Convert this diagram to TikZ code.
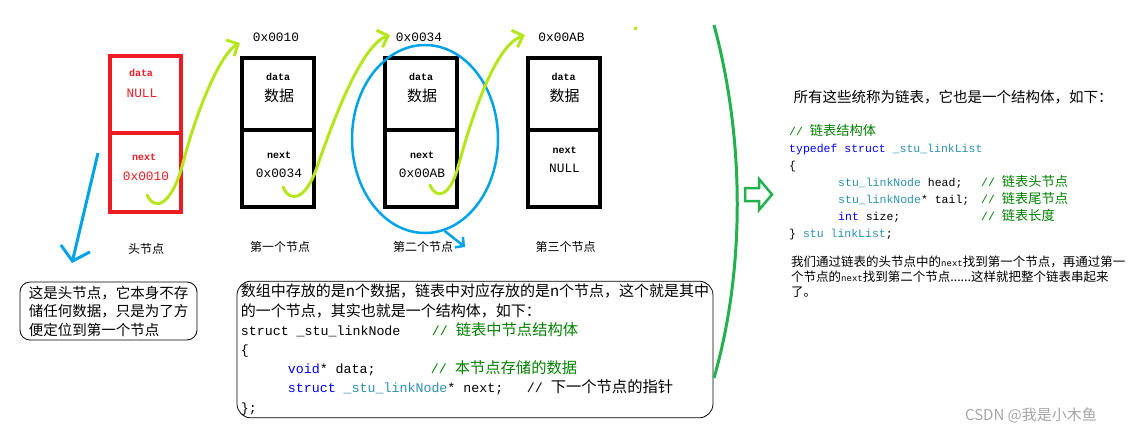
\documentclass[tikz,border=0pt]{standalone}
\usepackage{fontspec}
\setmainfont{Noto Sans CJK SC}
\setmonofont{Liberation Mono}
\newfontfamily\cjkc{Noto Sans CJK SC}[Scale=1.15]
\usetikzlibrary{arrows.meta,shapes.geometric}
\definecolor{hdred}{HTML}{ED1C24}
\definecolor{pblue}{HTML}{00A2E8}
\definecolor{sketchlime}{HTML}{B5E61D}
\definecolor{lgreen}{HTML}{22B14C}
\definecolor{kwblue}{HTML}{0000FF}
\definecolor{tyteal}{HTML}{2B91AF}
\definecolor{cmgreen}{HTML}{008000}
\newcommand{\kw}[1]{\textcolor{kwblue}{#1}}
\newcommand{\ty}[1]{\textcolor{tyteal}{#1}}
\newcommand{\cmt}[1]{\textcolor{cmgreen}{//\ {\cjkc #1}}}
\newcommand{\nx}{{\ttfamily\fontsize{9}{10}\selectfont next}}
\tikzset{
  cell/.style={draw,line width=4pt,minimum width=72pt,inner sep=0pt},
  fld/.style={font=\ttfamily\bfseries\fontsize{10}{12}\selectfont},
  addr/.style={font=\ttfamily\fontsize{12.8}{14}\selectfont},
  val/.style={font=\fontsize{15}{17}\selectfont},
  nodecap/.style={font=\fontsize{12}{14}\selectfont},
  sketch/.style={sketchlime,line width=3pt,line cap=round,-{Straight Barb[length=9pt,width=18pt]}},
}
\begin{document}
\begin{tikzpicture}[x=1pt,y=-1pt]
  \useasboundingbox (0,0) rectangle (1132,437);

  % head node
  \node[cell,draw=hdred,minimum width=71pt,minimum height=77pt] (h-data) at (145.5,94.5) {};
  \node[cell,draw=hdred,minimum width=71pt,minimum height=79pt] (h-next) at (145.5,172.5) {};
  \node[fld,text=hdred] (h-dlbl) at (141,73) {data};
  \node[addr,text=hdred] (h-val) at (142,93) {NULL};
  \node[fld,text=hdred] (h-nlbl) at (144,157) {next};
  \node[addr,text=hdred] (h-ptr) at (146,176) {0x0010};
  \node[nodecap] (h-cap) at (146,249) {头节点};

  % the three nodes
  \foreach \n/\x/\ny/\addr/\nxt/\lbl in {1/278/155/0x0010/0x0034/第一个节点,
      2/421/155/0x0034/0x00AB/第二个节点, 3/563.5/150/0x00AB/NULL/第三个节点} {
    \node[cell,minimum height=72pt] (n\n-data) at (\x,94) {};
    \node[cell,minimum height=77pt] (n\n-next) at (\x,168.5) {};
    \node[addr] (n\n-addr) at (\x-2,37) {\addr};
    \node[fld] (n\n-dlbl) at (\x,77) {data};
    \node[val] (n\n-val) at (\x+1,96) {数据};
    \node[fld] (n\n-nlbl) at (\x+1,\ny) {next};
    \node[addr] (n\n-ptr) at (\x+1,\ny+18) {\nxt};
    \node[nodecap] (n\n-cap) at (\x+2,247) {\lbl};
  }

  % highlight of the second node
  \node[ellipse,draw=pblue,line width=2.5pt,minimum width=146pt,minimum height=188pt,inner sep=0pt] (focus) at (425,139) {};
  \coordinate (focus-tip) at (465,247);
  \draw[pblue,line width=2.5pt,-{Straight Barb[length=6pt,width=13pt]}] (focus.-78) -- (focus-tip);

  % pointer to the note
  \coordinate (ptr-from) at (98,153);
  \coordinate (ptr-to) at (72,263);
  \draw[pblue,line width=3pt,-{Straight Barb[length=13pt,width=30pt]}] (ptr-from) -- (ptr-to);

  \node[draw,rounded corners=10pt,line width=0.8pt,align=left,minimum width=177pt,minimum height=58pt,
    font=\fontsize{14.5}{18.5}\selectfont] (note) at (108.5,311)
    {这是头节点，它本身不存\\储任何数据，只是为了方\\便定位到第一个节点};

  \node[draw,rounded corners=14pt,line width=0.8pt,align=left,minimum width=476pt,minimum height=135pt,
    inner sep=3pt,font=\fontsize{15}{19.2}\selectfont] (explain) at (475,349.5) {%
    数组中存放的是n个数据，链表中对应存放的是n个节点，这个就是其中\\
    的一个节点，其实也就是一个结构体，如下：\\
    \ttfamily\fontsize{13.3}{19.2}\selectfont\makebox[191pt][l]{struct \_stu\_linkNode}\cmt{链表中节点结构体}\\
    \ttfamily\fontsize{13.3}{19.2}\selectfont\{\\
    \ttfamily\fontsize{13.3}{19.2}\selectfont\hspace*{47pt}\makebox[143pt][l]{\kw{void}* data;}\cmt{本节点存储的数据}\\
    \ttfamily\fontsize{13.3}{19.2}\selectfont\hspace*{47pt}\makebox[239pt][l]{\kw{struct} \ty{\_stu\_linkNode}* next;}//\ {\cjkc 下一个节点的指针}\\
    \ttfamily\fontsize{13.3}{19.2}\selectfont\};};

  % the list itself
  \coordinate (brace-top) at (714,25);
  \coordinate (brace-bot) at (714,378);
  \draw[lgreen,line width=3pt] (brace-top) .. controls (745,140) and (745,270) .. (brace-bot);
  \draw[lgreen,line width=2.5pt] (745,188) -- (759,188) -- (759,179) -- (772,194.5) -- (759,210) -- (759,201) -- (745,201) -- cycle;

  \node[anchor=west,font=\fontsize{14.5}{17}\selectfont] (summary) at (790,97) {所有这些统称为链表，它也是一个结构体，如下：};
  \node[anchor=west,align=left,inner sep=0pt,font=\ttfamily\fontsize{11.5}{17}\selectfont] (listdef) at (789,182) {%
    \cmt{链表结构体}\\
    \kw{typedef} \kw{struct} \ty{\_stu\_linkList}\\
    \{\\
    \hspace*{49pt}\makebox[143pt][l]{\ty{stu\_linkNode} head;}\cmt{链表头节点}\\
    \hspace*{49pt}\makebox[143pt][l]{\ty{stu\_linkNode}* tail;}\cmt{链表尾节点}\\
    \hspace*{49pt}\makebox[143pt][l]{\kw{int} size;}\cmt{链表长度}\\
    \} \ty{stu linkList};};
  \node[anchor=west,align=left,inner sep=0pt,font=\fontsize{12.5}{15}\selectfont] (howto) at (791,277)
    {我们通过链表的头节点中的\nx 找到第一个节点，再通过第一\\个节点的\nx 找到第二个节点......这样就把整个链表串起来\\了。};

  \node[text=gray!70,font=\fontsize{15}{17}\selectfont] (mark) at (1031,415) {CSDN @我是小木鱼};

  % next pointers
  \coordinate (hook-h) at (147,195);
  \coordinate (hook-1) at (283,187);
  \coordinate (hook-2) at (430,185);
  \coordinate (tip-1) at (240,43);
  \coordinate (tip-2) at (390,35);
  \coordinate (tip-3) at (525,35);
  \draw[sketch] (hook-h) .. controls (155,212) and (172,205) .. (183,163) .. controls (198,105) and (222,52) .. (tip-1);
  \draw[sketch] (hook-1) .. controls (290,203) and (305,200) .. (316,170) .. controls (335,115) and (362,45) .. (tip-2);
  \draw[sketch] (hook-2) .. controls (436,200) and (450,197) .. (458,167) .. controls (475,105) and (497,45) .. (tip-3);
  \fill[sketchlime] (634,27) rectangle (637,30);
\end{tikzpicture}
\end{document}
